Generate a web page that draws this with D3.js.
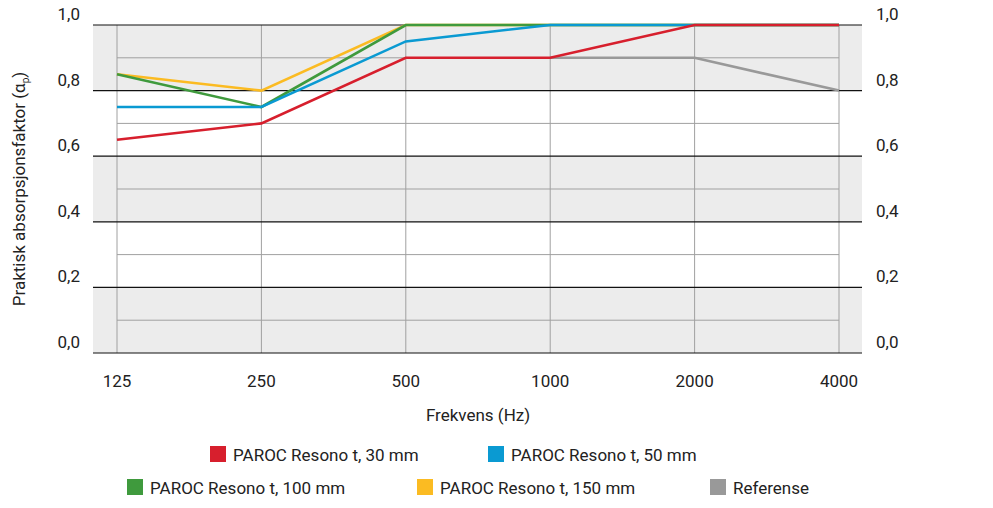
<!DOCTYPE html>
<html lang="no">
<head>
<meta charset="UTF-8">
<style>
html,body{margin:0;background:#fff;overflow:hidden;}
text{font-family:Roboto,"Noto Sans",sans-serif;fill:#222;}
</style>
</head>
<body>
<svg id="svg" width="993" height="508"></svg>
<script src="https://d3js.org/d3.v7.min.js"></script>
<script>
const freqs = ["125", "250", "500", "1000", "2000", "4000"];
const yTicks = [0, 0.2, 0.4, 0.6, 0.8, 1.0];
const names = ["PAROC Resono t, 30 mm", "PAROC Resono t, 50 mm", "PAROC Resono t, 100 mm", "PAROC Resono t, 150 mm", "Referense"];
const colors = ["#d71f2d", "#0a9ad2", "#3f9a3d", "#fbbb22", "#999999"];
const s30 = [0.65, 0.70, 0.90, 0.90, 1.0, 1.0];
const s50 = [0.75, 0.75, 0.95, 1.0, 1.0, 1.0];
const s100 = [0.85, 0.75, 1.0, 1.0, 1.0, 1.0];
const s150 = [0.85, 0.80, 1.0, 1.0, 1.0, 1.0];
const sRef = [null, null, null, 0.90, 0.90, 0.80];
const seriesList = [s30, s50, s100, s150, sRef];
const drawOrder = [3, 2, 1, 4, 0];

const svg = d3.select("#svg");
const pL = 93, pR = 862, pT = 25, pB = 353;

const x = d3.scalePoint().domain(freqs).range([117, 839]);
const y = d3.scaleLinear().domain([0, 1]).range([pB, pT]);

const g = svg.append("g");
// bands
[[0.8, 1.0], [0.4, 0.6], [0, 0.2]].forEach(b => {
  g.append("rect").attr("x", pL).attr("width", pR - pL)
    .attr("y", y(b[1])).attr("height", y(b[0]) - y(b[1])).attr("fill", "#ececec");
});
// minor lines
[0.1, 0.3, 0.5, 0.7, 0.9].forEach(v => {
  g.append("line").attr("x1", 117).attr("x2", 839).attr("y1", y(v)).attr("y2", y(v))
    .attr("stroke", "#a0a0a0").attr("stroke-width", 1);
});
freqs.forEach(f => {
  g.append("line").attr("x1", x(f)).attr("x2", x(f)).attr("y1", pT).attr("y2", pB)
    .attr("stroke", "#a0a0a0").attr("stroke-width", 1);
});
yTicks.forEach(v => {
  g.append("line").attr("x1", pL).attr("x2", pR).attr("y1", y(v)).attr("y2", y(v))
    .attr("stroke", "#111").attr("stroke-width", 1.2);
  g.append("text").attr("x", 80).attr("y", y(v) - 5).attr("text-anchor", "end")
    .attr("font-size", 17).text(v.toFixed(1).replace(".", ","));
  g.append("text").attr("x", 876).attr("y", y(v) - 5).attr("text-anchor", "start")
    .attr("font-size", 17).text(v.toFixed(1).replace(".", ","));
});

const line = d3.line().defined(d => d.v != null).x(d => x(d.f)).y(d => y(d.v));
drawOrder.forEach(i => {
  const pts = freqs.map((f, j) => ({f: f, v: seriesList[i][j]}));
  g.append("path").datum(pts).attr("d", line).attr("fill", "none")
    .attr("stroke", colors[i]).attr("stroke-width", 2.6);
});

freqs.forEach(f => {
  svg.append("text").attr("x", x(f)).attr("y", 387).attr("text-anchor", "middle")
    .attr("font-size", 17).text(f);
});
svg.append("text").attr("x", 478).attr("y", 421).attr("text-anchor", "middle")
  .attr("font-size", 17).text("Frekvens (Hz)");

const yl = svg.append("text").attr("transform", "translate(25,189) rotate(-90)")
  .attr("text-anchor", "middle").attr("font-size", 17);
yl.append("tspan").text("Praktisk absorpsjonsfaktor (α");
yl.append("tspan").attr("font-size", 10).attr("dy", 4).text("p");
yl.append("tspan").attr("dy", -4).text(")");

// legend
const rows = [[0, 1], [2, 3, 4]];
const rowX = [[210, 488], [127, 417, 710]];
const rowY = [455, 488];
rows.forEach((r, ri) => {
  r.forEach((i, k) => {
    svg.append("rect").attr("x", rowX[ri][k]).attr("y", rowY[ri] - 9).attr("width", 16).attr("height", 16)
      .attr("fill", colors[i]);
    svg.append("text").attr("x", rowX[ri][k] + 23).attr("y", rowY[ri] + 6)
      .attr("font-size", 17).text(names[i]);
  });
});
</script>
</body>
</html>
